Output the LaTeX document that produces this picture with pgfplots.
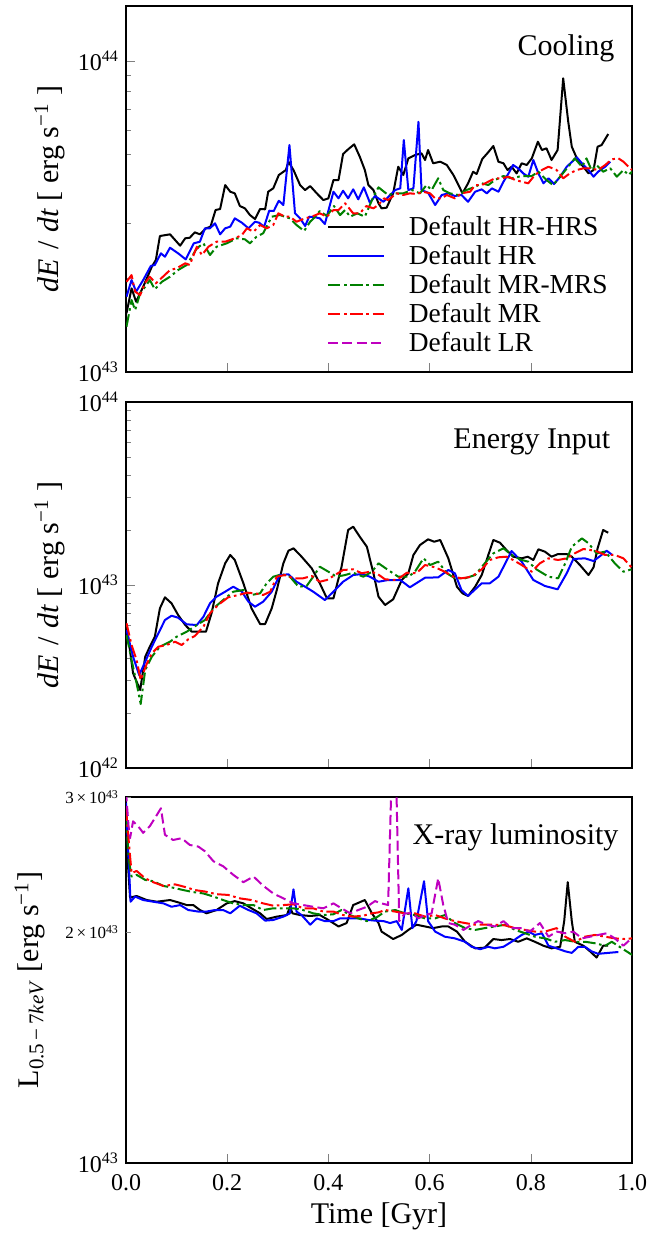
\documentclass[border=0pt]{standalone}
\usepackage{fontspec}
\setmainfont{Liberation Serif}
\usepackage{pgfplots}
\pgfplotsset{compat=1.18}
\definecolor{mplgreen}{rgb}{0,0.5,0}
\definecolor{mplmag}{rgb}{0.75,0,0.75}
\pgfplotsset{legend image code/.code={\draw[#1] (0pt,0pt) -- (28pt,0pt);}}
\pgfplotsset{
  mypanel/.style={
    scale only axis, width=253pt, height=183pt,
    xmin=0, xmax=1,
    axis line style={line width=0.7pt},
    tick align=inside, tick pos=left,
    major tick length=4.5pt, minor tick length=2.5pt,
    xtick={0,0.2,0.4,0.6,0.8,1.0},
    tick label style={font=\fontsize{12}{14}\selectfont},
    xticklabel style={yshift=-2pt},
    label style={font=\fontsize{15}{18}\selectfont},
    every axis y label/.style={at={(axis description cs:-0.151,0.5)},rotate=90,anchor=center,font=\fontsize{15}{18}\selectfont},
  },
  sHH/.style={black, line width=1pt, line join=round},
  sH/.style={blue, line width=1pt, line join=round},
  sMM/.style={mplgreen, line width=1pt, line join=round, dash pattern=on 6.3pt off 1.8pt on 1.3pt off 1.8pt},
  sM/.style={red, line width=1pt, line join=round, dash pattern=on 6.3pt off 1.8pt on 1.3pt off 1.8pt},
  sL/.style={mplmag, line width=1pt, line join=round, dash pattern=on 5pt off 2.2pt},
}
\tikzset{ttl/.style={anchor=base east, font=\fontsize{15}{18}\selectfont, inner sep=0pt}}
\begin{document}
\begin{tikzpicture}
\useasboundingbox (0,0) rectangle (326.5pt,-618pt);
% ---------------- Panel 1: Cooling ----------------
\begin{semilogyaxis}[mypanel, at={(63pt,-3pt)}, anchor=north west,
  ymin=1, ymax=15.03, ytick={1,10},
  yticklabels={10\textsuperscript{43},10\textsuperscript{44}},
  minor ytick={2,3,4,5,6,7,8,9},
  xticklabels={},
  ylabel={\textit{dE}\hspace{0.3em}/\hspace{0.3em}\textit{dt} [ erg s\textsuperscript{−1} ]},
  legend entries={Default HR-HRS, Default HR, Default MR-MRS, Default MR, Default LR},
  legend cell align=left,
  legend style={draw=none, fill=none, at={(0.397,0.4257)}, anchor=north west,
    inner sep=0pt, outer sep=0pt, row sep=3.35pt,
    font=\fontsize{13.7}{15}\selectfont, nodes={inner sep=0pt},
    /tikz/every odd column/.append style={column sep=12pt}},
]
\addplot[sHH] coordinates {(0.001,1.545)(0.011,1.858)(0.020,1.683)(0.034,1.881)(0.051,2.181)(0.059,2.292)(0.067,2.737)(0.087,2.772)(0.107,2.548)(0.117,2.691)(0.126,2.703)(0.136,2.813)(0.146,2.772)(0.158,2.898)(0.167,2.933)(0.177,3.318)(0.186,3.343)(0.196,3.993)(0.206,3.800)(0.215,3.755)(0.225,3.418)(0.235,3.360)(0.245,3.197)(0.255,3.104)(0.265,3.343)(0.275,3.336)(0.281,3.800)(0.291,3.896)(0.302,4.300)(0.316,4.462)(0.321,4.745)(0.331,4.462)(0.344,3.993)(0.354,3.848)(0.364,3.963)(0.377,3.755)(0.390,3.573)(0.400,3.618)(0.410,4.143)(0.420,4.143)(0.429,5.023)(0.439,5.201)(0.451,5.397)(0.462,4.923)(0.472,4.462)(0.479,3.993)(0.489,3.848)(0.499,3.487)(0.505,3.360)(0.515,3.376)(0.528,3.755)(0.538,4.573)(0.548,4.300)(0.558,4.865)(0.571,4.985)(0.584,5.048)(0.591,4.805)(0.597,5.174)(0.607,4.690)(0.621,4.745)(0.634,4.631)(0.647,4.300)(0.657,3.993)(0.665,3.755)(0.676,4.044)(0.686,4.406)(0.693,4.331)(0.704,4.840)(0.714,5.048)(0.726,5.330)(0.736,4.745)(0.746,4.690)(0.754,4.462)(0.762,4.573)(0.772,4.353)(0.782,4.690)(0.792,4.631)(0.802,4.865)(0.814,5.502)(0.822,5.174)(0.831,5.240)(0.841,4.805)(0.853,5.174)(0.864,8.80)(0.874,6.378)(0.881,5.302)(0.891,4.865)(0.901,4.631)(0.914,4.353)(0.924,4.462)(0.932,5.302)(0.940,5.370)(0.953,5.825)};
\addplot[sH] coordinates {(0.001,1.747)(0.011,1.976)(0.020,1.813)(0.034,1.976)(0.049,2.192)(0.057,2.209)(0.069,2.408)(0.077,2.348)(0.087,2.510)(0.103,2.408)(0.118,2.303)(0.134,2.593)(0.146,2.624)(0.156,2.898)(0.166,2.898)(0.176,3.007)(0.186,2.772)(0.196,2.898)(0.206,2.933)(0.215,3.120)(0.229,3.021)(0.242,2.898)(0.255,3.043)(0.263,3.021)(0.273,2.933)(0.283,3.301)(0.292,3.294)(0.302,3.554)(0.311,3.443)(0.323,5.37)(0.334,3.238)(0.344,3.120)(0.354,2.948)(0.362,3.158)(0.374,3.145)(0.383,3.120)(0.393,2.992)(0.410,3.800)(0.420,3.618)(0.429,3.828)(0.439,3.618)(0.449,3.868)(0.459,3.592)(0.470,3.926)(0.482,3.503)(0.492,3.681)(0.509,3.528)(0.522,3.709)(0.532,3.848)(0.542,3.896)(0.549,5.572)(0.558,3.848)(0.568,3.896)(0.578,6.378)(0.584,3.848)(0.597,3.772)(0.611,3.443)(0.624,3.709)(0.637,3.755)(0.650,3.681)(0.663,3.709)(0.676,3.528)(0.690,3.800)(0.703,3.868)(0.713,3.755)(0.723,3.896)(0.736,3.800)(0.746,4.092)(0.756,4.353)(0.765,4.631)(0.775,4.519)(0.785,4.353)(0.795,4.246)(0.805,4.805)(0.815,4.353)(0.825,4.044)(0.835,4.196)(0.846,4.023)(0.858,4.246)(0.871,4.573)(0.891,4.900)(0.904,4.631)(0.914,4.462)(0.924,4.246)(0.933,4.406)(0.947,4.573)(0.957,4.745)};
\addplot[sMM] coordinates {(0.001,1.399)(0.011,1.704)(0.018,1.582)(0.028,1.791)(0.038,1.881)(0.047,1.976)(0.057,1.845)(0.071,1.951)(0.087,2.025)(0.103,2.128)(0.120,2.209)(0.130,2.348)(0.140,2.499)(0.153,2.593)(0.166,2.378)(0.179,2.529)(0.199,2.593)(0.219,2.691)(0.235,2.671)(0.245,2.593)(0.258,2.723)(0.271,2.793)(0.288,3.158)(0.304,3.197)(0.324,3.120)(0.337,2.970)(0.352,2.841)(0.364,3.043)(0.374,3.158)(0.383,3.294)(0.397,3.174)(0.411,3.418)(0.423,3.197)(0.433,3.318)(0.443,3.158)(0.457,3.238)(0.472,3.158)(0.489,3.662)(0.499,3.926)(0.518,3.709)(0.532,3.755)(0.548,3.755)(0.565,3.848)(0.581,3.755)(0.594,3.993)(0.604,3.848)(0.617,4.196)(0.627,3.848)(0.640,3.755)(0.657,3.709)(0.673,3.848)(0.690,3.943)(0.703,4.044)(0.716,3.993)(0.729,4.143)(0.746,4.268)(0.762,4.196)(0.782,4.268)(0.802,4.268)(0.815,4.406)(0.831,4.143)(0.844,3.993)(0.858,4.246)(0.874,4.573)(0.887,4.865)(0.901,4.573)(0.910,4.865)(0.920,4.462)(0.930,4.631)(0.943,4.406)(0.957,4.519)(0.970,4.246)(0.983,4.462)(0.993,4.300)(1.000,4.406)};
\addplot[sM] coordinates {(0.001,1.951)(0.011,2.050)(0.018,1.813)(0.028,1.768)(0.038,1.937)(0.047,2.025)(0.059,1.929)(0.073,2.025)(0.087,2.128)(0.100,2.155)(0.117,2.236)(0.126,2.209)(0.140,2.529)(0.150,2.378)(0.163,2.529)(0.179,2.624)(0.196,2.624)(0.215,2.691)(0.229,2.757)(0.239,2.898)(0.252,2.826)(0.265,2.970)(0.278,2.898)(0.291,2.970)(0.301,3.238)(0.314,3.158)(0.324,3.158)(0.337,3.043)(0.354,3.120)(0.367,3.158)(0.383,3.238)(0.397,3.158)(0.410,3.318)(0.420,3.318)(0.433,3.487)(0.449,3.238)(0.462,3.238)(0.475,3.418)(0.489,3.360)(0.499,3.450)(0.510,3.618)(0.518,3.573)(0.535,3.755)(0.548,3.709)(0.561,3.755)(0.574,3.736)(0.587,3.800)(0.601,3.755)(0.611,3.618)(0.624,3.618)(0.634,3.709)(0.650,3.618)(0.663,3.755)(0.680,3.800)(0.690,3.993)(0.703,3.993)(0.716,4.092)(0.729,4.196)(0.742,4.196)(0.756,4.246)(0.769,4.143)(0.782,4.092)(0.795,4.044)(0.808,4.300)(0.822,4.462)(0.835,4.573)(0.851,4.462)(0.864,4.196)(0.877,4.353)(0.891,4.462)(0.904,4.519)(0.917,4.519)(0.933,4.462)(0.947,4.631)(0.960,4.830)(0.973,4.865)(0.983,4.745)(0.993,4.573)(1.000,4.462)};
\addlegendimage{sL}
\node[ttl] at (rel axis cs:0.966,0.866) {Cooling};
\end{semilogyaxis}
% ---------------- Panel 2: Energy Input ----------------
\begin{semilogyaxis}[mypanel, at={(63pt,-201pt)}, anchor=north west,
  ymin=0.1, ymax=10, ytick={0.1,1,10},
  yticklabels={10\textsuperscript{42},10\textsuperscript{43},10\textsuperscript{44}},
  minor ytick={0.2,0.3,0.4,0.5,0.6,0.7,0.8,0.9,2,3,4,5,6,7,8,9},
  xticklabels={},
  ylabel={\textit{dE}\hspace{0.3em}/\hspace{0.3em}\textit{dt} [ erg s\textsuperscript{−1} ]},
]
\addplot[sHH] coordinates {(0.001,0.6045)(0.014,0.3292)(0.028,0.2668)(0.038,0.4057)(0.047,0.4601)(0.057,0.5218)(0.067,0.7458)(0.077,0.8566)(0.090,0.7943)(0.103,0.6857)(0.117,0.6045)(0.130,0.5556)(0.158,0.5556)(0.169,0.7002)(0.182,1.022)(0.196,1.314)(0.206,1.459)(0.215,1.370)(0.232,1.022)(0.248,0.7458)(0.265,0.6122)(0.275,0.6122)(0.288,0.7458)(0.298,0.9390)(0.311,1.314)(0.321,1.539)(0.331,1.587)(0.347,1.428)(0.367,1.234)(0.383,1.022)(0.397,0.8459)(0.410,0.8459)(0.426,1.259)(0.439,1.998)(0.449,2.083)(0.462,1.836)(0.476,1.619)(0.489,1.159)(0.499,0.8631)(0.512,0.7776)(0.528,0.8354)(0.545,1.065)(0.558,1.159)(0.568,1.459)(0.581,1.654)(0.597,1.777)(0.609,1.724)(0.621,1.762)(0.637,1.399)(0.654,0.9788)(0.665,0.9007)(0.676,0.8709)(0.690,0.9788)(0.703,1.134)(0.716,1.459)(0.726,1.762)(0.739,1.703)(0.752,1.553)(0.765,1.428)(0.782,1.399)(0.794,1.428)(0.805,1.370)(0.815,1.567)(0.828,1.521)(0.841,1.428)(0.854,1.477)(0.871,1.477)(0.881,1.428)(0.897,1.286)(0.914,1.134)(0.924,1.249)(0.932,1.587)(0.943,1.998)(0.953,1.931)};
\addplot[sH] coordinates {(0.001,0.5676)(0.014,0.4057)(0.026,0.3222)(0.038,0.3810)(0.051,0.4601)(0.064,0.5445)(0.077,0.6437)(0.090,0.6796)(0.103,0.6628)(0.120,0.6098)(0.140,0.6045)(0.153,0.6712)(0.166,0.7943)(0.179,0.8631)(0.196,0.9193)(0.212,0.9788)(0.229,0.9193)(0.242,0.8104)(0.255,0.7611)(0.271,0.8104)(0.288,0.9193)(0.304,1.134)(0.321,1.144)(0.337,1.042)(0.354,0.9788)(0.370,0.9193)(0.393,0.8279)(0.410,0.9193)(0.429,1.042)(0.449,1.134)(0.466,1.148)(0.482,1.110)(0.499,1.042)(0.518,1.065)(0.542,1.065)(0.561,0.9714)(0.591,1.096)(0.617,1.101)(0.637,1.208)(0.650,1.159)(0.663,0.9390)(0.676,0.8709)(0.703,1.022)(0.719,1.022)(0.736,1.110)(0.762,1.534)(0.782,1.341)(0.805,1.065)(0.828,0.9875)(0.853,0.9473)(0.871,1.159)(0.884,1.387)(0.907,1.399)(0.924,1.352)(0.937,1.440)(0.950,1.539)(0.961,1.459)};
\addplot[sMM] coordinates {(0.001,0.5330)(0.011,0.3891)(0.021,0.2903)(0.029,0.2237)(0.038,0.3431)(0.051,0.4057)(0.067,0.4601)(0.087,0.4899)(0.100,0.5218)(0.120,0.5556)(0.140,0.6045)(0.156,0.6437)(0.173,0.7458)(0.192,0.8279)(0.212,0.9193)(0.232,0.9390)(0.248,0.8819)(0.265,0.9007)(0.278,1.022)(0.291,1.110)(0.308,1.144)(0.324,1.110)(0.341,0.9788)(0.357,0.9875)(0.370,1.110)(0.383,1.259)(0.400,1.182)(0.416,1.110)(0.433,1.134)(0.449,1.167)(0.469,1.110)(0.486,1.182)(0.499,1.314)(0.518,1.208)(0.538,1.110)(0.558,1.110)(0.571,1.182)(0.588,1.399)(0.601,1.286)(0.617,1.341)(0.634,1.159)(0.650,1.088)(0.670,1.088)(0.690,1.134)(0.709,1.314)(0.726,1.490)(0.746,1.587)(0.762,1.459)(0.782,1.370)(0.795,1.341)(0.811,1.218)(0.835,1.110)(0.854,1.088)(0.868,1.314)(0.881,1.619)(0.901,1.799)(0.914,1.690)(0.930,1.490)(0.947,1.521)(0.966,1.314)(0.983,1.182)(0.999,1.218)};
\addplot[sM] coordinates {(0.001,0.6177)(0.011,0.4700)(0.021,0.3891)(0.029,0.3027)(0.040,0.3654)(0.051,0.4233)(0.064,0.4601)(0.080,0.4700)(0.097,0.4899)(0.110,0.4700)(0.123,0.5048)(0.136,0.5264)(0.153,0.5918)(0.166,0.7002)(0.182,0.7776)(0.202,0.8566)(0.222,0.8819)(0.239,0.9078)(0.255,0.9007)(0.271,0.8819)(0.285,0.9193)(0.298,1.110)(0.314,1.134)(0.331,1.088)(0.350,1.088)(0.367,1.120)(0.383,1.042)(0.397,1.065)(0.413,1.134)(0.429,1.208)(0.449,1.218)(0.466,1.159)(0.482,1.182)(0.495,1.160)(0.512,1.074)(0.535,1.065)(0.555,1.167)(0.574,1.159)(0.591,1.286)(0.611,1.249)(0.630,1.182)(0.647,1.110)(0.663,1.088)(0.683,1.110)(0.703,1.218)(0.719,1.370)(0.736,1.417)(0.752,1.428)(0.765,1.370)(0.782,1.286)(0.802,1.182)(0.818,1.314)(0.835,1.399)(0.854,1.370)(0.871,1.399)(0.887,1.490)(0.904,1.573)(0.927,1.539)(0.947,1.459)(0.966,1.459)(0.983,1.399)(0.999,1.249)};
\node[ttl] at (rel axis cs:0.958,0.872) {Energy Input};
\end{semilogyaxis}
% ---------------- Panel 3: X-ray luminosity ----------------
\begin{semilogyaxis}[mypanel, at={(63pt,-398.5pt)}, anchor=north west,
  ymin=1, ymax=3, ytick={1},
  yticklabels={10\textsuperscript{43}},
  extra y ticks={2,3},
  extra y tick labels={2\,×\,10\textsuperscript{43},3\,×\,10\textsuperscript{43}},
  extra y tick style={major tick length=2.5pt, yticklabel style={font=\fontsize{8.5}{10}\selectfont}},
  xticklabels={0.0,0.2,0.4,0.6,0.8,1.0},
  xlabel={Time [Gyr]},
  xlabel style={at={(axis description cs:0.5,-0.145)}, anchor=center},
  every axis y label/.style={at={(axis description cs:-0.190,0.5)},rotate=90,anchor=center,font=\fontsize{15}{18}\selectfont},
  ylabel={L\textsubscript{0.5\,−\,7\textit{keV}} [erg s\textsuperscript{−1}]},
]
\addplot[sHH] coordinates {(0.000,2.9)(0.003,2.5)(0.008,2.218)(0.021,2.229)(0.041,2.202)(0.061,2.191)(0.087,2.202)(0.103,2.187)(0.120,2.169)(0.133,2.169)(0.146,2.137)(0.159,2.116)(0.179,2.137)(0.199,2.180)(0.215,2.195)(0.232,2.180)(0.248,2.148)(0.265,2.116)(0.278,2.080)(0.298,2.095)(0.318,2.105)(0.324,2.158)(0.329,2.116)(0.344,2.105)(0.364,2.099)(0.383,2.105)(0.400,2.074)(0.420,2.034)(0.436,2.055)(0.449,2.169)(0.472,2.202)(0.486,2.116)(0.499,2.055)(0.505,2.003)(0.528,1.959)(0.545,1.983)(0.558,2.013)(0.574,2.045)(0.591,2.034)(0.607,2.024)(0.624,2.034)(0.637,2.034)(0.654,2.003)(0.670,1.943)(0.690,1.905)(0.709,1.909)(0.726,1.959)(0.742,1.953)(0.759,1.959)(0.775,1.943)(0.792,1.963)(0.808,1.943)(0.825,1.920)(0.841,1.905)(0.858,1.914)(0.866,2.067)(0.873,2.323)(0.881,2.067)(0.887,1.943)(0.904,1.920)(0.917,1.888)(0.930,1.853)(0.943,1.920)(0.953,1.920)};
\addplot[sH] coordinates {(0.000,2.95)(0.005,2.5)(0.009,2.191)(0.018,2.225)(0.034,2.202)(0.054,2.191)(0.074,2.180)(0.090,2.158)(0.107,2.169)(0.123,2.137)(0.143,2.127)(0.159,2.127)(0.176,2.137)(0.192,2.137)(0.206,2.116)(0.225,2.165)(0.242,2.137)(0.258,2.116)(0.275,2.070)(0.291,2.074)(0.311,2.095)(0.324,2.116)(0.331,2.274)(0.337,2.127)(0.347,2.105)(0.364,2.045)(0.377,2.084)(0.393,2.067)(0.410,2.067)(0.423,2.084)(0.443,2.084)(0.462,2.084)(0.479,2.074)(0.492,2.070)(0.509,2.067)(0.522,2.055)(0.535,2.067)(0.545,2.013)(0.558,2.281)(0.566,2.024)(0.574,2.067)(0.589,2.330)(0.597,2.067)(0.611,2.003)(0.630,1.973)(0.650,1.963)(0.670,1.943)(0.683,1.914)(0.700,1.900)(0.716,1.914)(0.729,1.905)(0.746,1.914)(0.762,1.943)(0.782,1.983)(0.795,2.003)(0.808,1.983)(0.822,1.993)(0.835,1.920)(0.851,1.905)(0.868,1.888)(0.881,1.879)(0.894,1.914)(0.907,1.914)(0.920,1.888)(0.933,1.874)(0.953,1.879)(0.973,1.884)};
\addplot[sMM] coordinates {(0.000,2.85)(0.005,2.5)(0.011,2.363)(0.021,2.375)(0.038,2.339)(0.054,2.330)(0.074,2.297)(0.093,2.285)(0.113,2.269)(0.133,2.255)(0.153,2.246)(0.173,2.225)(0.192,2.202)(0.212,2.180)(0.232,2.169)(0.252,2.169)(0.271,2.137)(0.291,2.148)(0.311,2.148)(0.331,2.148)(0.350,2.137)(0.370,2.116)(0.390,2.105)(0.410,2.110)(0.426,2.137)(0.443,2.105)(0.459,2.084)(0.476,2.067)(0.495,2.090)(0.512,2.127)(0.532,2.137)(0.551,2.116)(0.571,2.105)(0.591,2.084)(0.611,2.084)(0.630,2.105)(0.650,2.055)(0.670,2.024)(0.690,2.013)(0.709,2.024)(0.729,2.034)(0.749,2.045)(0.769,2.013)(0.789,1.993)(0.808,1.973)(0.828,1.963)(0.848,1.943)(0.868,1.953)(0.887,1.943)(0.907,1.943)(0.927,1.934)(0.947,1.920)(0.960,1.943)(0.980,1.905)(1.000,1.868)};
\addplot[sM] coordinates {(0.000,2.9)(0.005,2.65)(0.011,2.387)(0.021,2.403)(0.038,2.350)(0.054,2.323)(0.074,2.297)(0.097,2.308)(0.117,2.290)(0.136,2.269)(0.156,2.259)(0.179,2.241)(0.202,2.236)(0.225,2.213)(0.248,2.202)(0.271,2.180)(0.291,2.165)(0.311,2.169)(0.331,2.174)(0.350,2.148)(0.370,2.148)(0.390,2.127)(0.410,2.127)(0.429,2.105)(0.449,2.095)(0.469,2.101)(0.486,2.116)(0.499,2.122)(0.512,2.137)(0.532,2.127)(0.551,2.116)(0.571,2.116)(0.591,2.095)(0.611,2.105)(0.630,2.084)(0.650,2.067)(0.670,2.055)(0.690,2.045)(0.709,2.045)(0.729,2.045)(0.749,2.041)(0.769,2.024)(0.789,2.013)(0.808,2.003)(0.828,2.003)(0.851,2.024)(0.868,1.973)(0.887,1.943)(0.907,1.973)(0.927,1.983)(0.947,1.973)(0.966,1.963)(0.986,1.959)(1.000,1.963)};
\addplot[sL] coordinates {(0.000,3.05)(0.005,2.75)(0.008,2.651)(0.014,2.789)(0.024,2.748)(0.034,2.694)(0.047,2.748)(0.057,2.815)(0.069,2.900)(0.077,2.678)(0.093,2.637)(0.110,2.651)(0.126,2.598)(0.143,2.585)(0.156,2.549)(0.173,2.473)(0.192,2.437)(0.212,2.375)(0.232,2.323)(0.252,2.363)(0.271,2.299)(0.291,2.246)(0.311,2.213)(0.331,2.180)(0.350,2.169)(0.370,2.158)(0.390,2.148)(0.410,2.180)(0.426,2.148)(0.443,2.116)(0.459,2.137)(0.476,2.158)(0.492,2.195)(0.505,2.180)(0.518,2.169)(0.526,3.4)(0.533,3.4)(0.540,2.067)(0.551,2.116)(0.565,2.116)(0.578,2.084)(0.591,2.105)(0.604,2.116)(0.617,2.350)(0.627,2.169)(0.637,2.055)(0.650,2.045)(0.667,2.013)(0.683,2.045)(0.696,2.067)(0.713,2.045)(0.729,2.034)(0.746,2.067)(0.762,2.024)(0.782,2.024)(0.798,2.003)(0.818,2.055)(0.835,1.973)(0.851,2.003)(0.868,1.993)(0.884,2.003)(0.901,1.963)(0.917,1.973)(0.933,1.983)(0.950,1.993)(0.966,1.963)(0.983,1.920)(0.999,1.963)};
\node[ttl] at (rel axis cs:0.974,0.869) {X-ray luminosity};
\end{semilogyaxis}
\end{tikzpicture}
\end{document}
